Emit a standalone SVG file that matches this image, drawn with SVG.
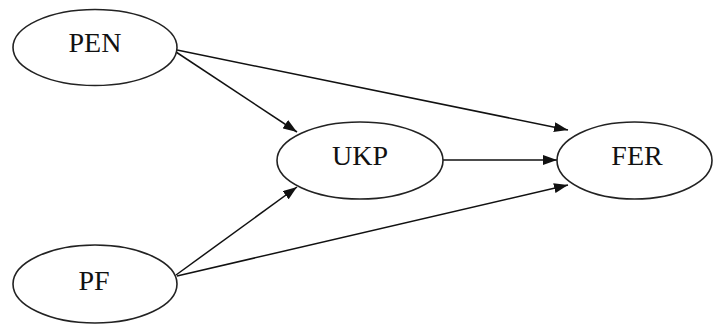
<svg xmlns="http://www.w3.org/2000/svg" width="713" height="325" viewBox="0 0 713 325">
<style>
.node ellipse{fill:#fff;stroke:#222;stroke-width:1.6}
.node text{font-family:"Liberation Serif",serif;font-size:28px;fill:#111;text-anchor:middle}
.edge{stroke:#111;stroke-width:1.5;fill:none;marker-end:url(#ah)}
</style>
<defs>
<marker id="ah" viewBox="0 0 14 10" refX="14" refY="5" markerWidth="14" markerHeight="10" markerUnits="userSpaceOnUse" orient="auto">
<path d="M0,0 L14,5 L0,10 Z" fill="#111"/>
</marker>
</defs>
<rect width="713" height="325" fill="#fff"/>
<g id="connectors">
<line class="edge" x1="176" y1="52" x2="297" y2="132"/>
<line class="edge" x1="177" y1="50" x2="568" y2="130"/>
<line class="edge" x1="443" y1="160" x2="557" y2="160"/>
<line class="edge" x1="176" y1="275" x2="297" y2="187"/>
<line class="edge" x1="177" y1="276" x2="568" y2="185"/>
</g>
<g id="PEN" class="node"><ellipse cx="95" cy="47.5" rx="82" ry="38"/><text x="95" y="52">PEN</text></g>
<g id="UKP" class="node"><ellipse cx="360" cy="160.5" rx="83" ry="38.5"/><text x="360" y="165">UKP</text></g>
<g id="FER" class="node"><ellipse cx="634.5" cy="160.5" rx="77.5" ry="38.5"/><text x="637" y="165">FER</text></g>
<g id="PF" class="node"><ellipse cx="95" cy="284" rx="82" ry="39"/><text x="94" y="290">PF</text></g>
</svg>
